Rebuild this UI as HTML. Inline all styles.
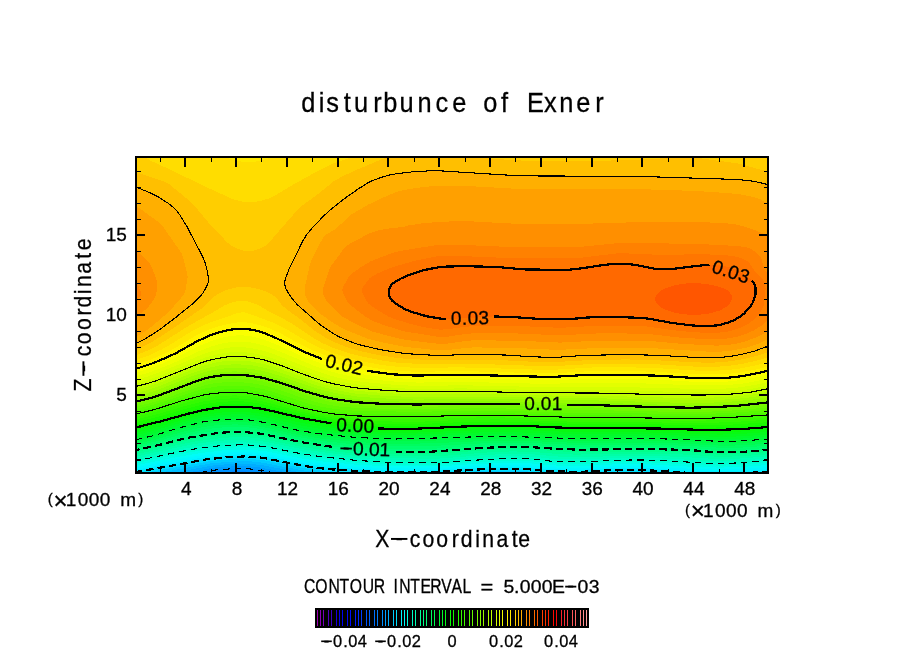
<!DOCTYPE html>
<html><head><meta charset="utf-8"><title>disturbunce of Exner</title>
<style>
html,body{margin:0;padding:0;background:#fff;}
body{width:904px;height:654px;overflow:hidden;}
svg{display:block;font-family:"Liberation Sans",sans-serif;fill:#000;}
.bt{stroke:#000;stroke-width:0.3px;}
.f path{stroke:none;shape-rendering:crispEdges;}
.c path{fill:none;stroke:#000;stroke-linejoin:round;shape-rendering:crispEdges;}
.t path{fill:none;stroke:#000;shape-rendering:crispEdges;}
.cl text{font-size:19px;}
.tk text{font-size:19px;}
.cb text{font-size:16.4px;}
.tk text,.cl text,.cb text{stroke:#000;stroke-width:0.3px;}
</style></head><body>
<svg width="904" height="654" viewBox="0 0 904 654">
<defs><clipPath id="cp"><rect x="136" y="157" width="632" height="316"/></clipPath></defs>
<rect x="136" y="157" width="632" height="316" fill="#0087ff"/>
<g class="f" clip-path="url(#cp)">
<path fill="#0091ff" d="M134,155 770,155 770,473 260.4,473 250,471.7 240,471.2 224,471.8 212.7,473 134,473Z"/>
<path fill="#009eff" d="M134,155 770,155 770,473 275.4,473 254,469.3 240,468.7 216,469.9 198.9,473 134,473Z"/>
<path fill="#00adff" d="M134,155 770,155 770,473 290,473 258,467.2 250,466.4 242,466.1 228,466.6 214,467.6 185.4,473 134,473Z"/>
<path fill="#00bcff" d="M134,155 770,155 770,473 304.6,473 260.8,465 252,464 242,463.7 228,464.2 212,465.6 172,473 134,473Z"/>
<path fill="#00ccff" d="M134,155 770,155 770,473 322.6,473 302,470.3 262,462.6 252,461.5 242,461.3 226,462 210,463.5 158.1,473 134,473Z"/>
<path fill="#00dfff" d="M134,155 770,155 770,473 659.2,473 632,471.6 614,472 597,473 548.3,473 526,471.4 488,471.2 470,471.6 445.2,473 355.5,473 330,471.5 316,470 302,467.9 264,460.4 254,459.3 244,458.9 228,459.5 210,461.2 143.7,473 134,473Z"/>
<path fill="#00edff" d="M134,155 770,155 770,471.4 747.2,473 691.6,473 636,469.6 614,470 586,471.7 578,471.9 548,471.1 528,469.3 490,469.2 470,469.7 436,471.7 404,472.4 392,472.3 356,470.9 326,468.9 306,466.2 264,458 255,457 244,456.5 228,457.1 206,459.4 134,472.4Z"/>
<path fill="#00f7ff" d="M134,155 770,155 770,469.2 740,471.3 710,471.5 696,471.2 638,467.7 614,468.1 578,470 550,469.2 528,467.3 512,467.2 478,467.6 436,469.9 394,470.4 358,469 326,466.6 306,463.9 264,455.6 254,454.6 244,454.2 226,455 204,457.3 134,470.1Z"/>
<path fill="#00fdf7" d="M134,155 770,155 770,467 740,469.2 716,469.6 696,469.1 638,465.8 616,466.1 586,467.8 576,468 552,467.4 528,465.2 512,465.1 476,465.8 436,468.2 392,468.4 358,466.9 326,464.2 306,461.5 264,453.4 252,452.2 242,451.9 224,452.7 202,455.2 184,458.2 134,467.9Z"/>
<path fill="#00fee6" d="M134,155 770,155 770,464.8 740,467.1 720,467.6 698,467.1 640,463.9 620,464.1 584,465.9 574,466 552,465.4 530,463.3 510,463 476,463.9 438,466.4 392,466.5 356,464.7 324,461.6 304,458.8 266,451.4 254,450 242,449.6 224,450.3 200,453.1 180,456.5 134,465.7Z"/>
<path fill="#00ffd5" d="M134,155 770,155 770,462.6 740,464.9 722,465.7 702,465.1 642,462 620,462.1 584,463.9 574,464 552,463.4 530,461.1 510,460.8 474,462.1 438,464.7 390,464.5 356,462.6 320,458.8 304,456.5 266,449.1 252,447.6 242,447.2 224,447.9 200,450.6 180,454 134,463.5Z"/>
<path fill="#00ffc5" d="M134,155 770,155 770,460.4 740,462.8 722,463.6 704,463 674,461.2 642,460 620,460.1 580,461.9 560,461.6 550,461.1 534,459 508,458.5 472,460.3 438,462.8 390,462.5 356,460.4 318,456.3 298,453.1 266,446.7 252,445.2 242,444.8 224,445.4 200,448.1 180,451.6 134,461.4Z"/>
<path fill="#00ffb6" d="M134,155 770,155 770,458.3 742,460.5 722,461.4 708,461 674,458.9 644,457.9 620,458 580,459.5 564,459.4 552,458.8 534,456.7 510,456.2 474,458 438,460.8 390,460.4 358,458.4 320,454.2 299.2,451 266,444.3 252,442.7 240,442.3 222,443.1 198,446 180,449.2 134,459.2Z"/>
<path fill="#00ffa7" d="M134,155 770,155 770,456.2 740,458.5 720,459.2 680,456.8 648,455.9 624,455.9 582,457.1 568,457 554,456.3 532,454.2 512,453.8 488,454.8 438,458.7 392,458.3 360,456.4 326,452.7 302,449.2 264,441.6 252,440.2 240,439.7 220,440.7 196,443.8 180,446.8 134,457Z"/>
<path fill="#00ff98" d="M134,155 770,155 770,454.1 742,456.2 720,456.9 688,454.7 670,454 626,453.7 576,454.6 558,454 532,451.8 512,451.4 488,452.4 436,456.4 394,456.2 364,454.5 328,450.8 302,446.9 262,438.8 252,437.6 240,437.1 230,437.4 220,438.2 194,441.7 182,444 134,454.8Z"/>
<path fill="#00ff89" d="M134,155 770,155 770,452 742,454.1 720,454.7 712,454.3 692,452.5 676,451.9 628,451.5 578,452.1 558,451.3 530,449.3 510,449.1 484,450.3 434,454.1 394,453.9 366,452.4 330,448.8 302,444.5 262,436.3 250,435 240,434.6 222,435.3 208,437 194,439.2 184,441.1 134,452.7Z"/>
<path fill="#00fe7b" d="M134,155 770,155 770,449.9 742,451.9 720,452.4 692,450.2 678,449.7 628,449.2 580,449.7 558,448.9 530,447.1 508,446.8 482,448 432,451.6 394,451.5 368,450.2 330,446.6 302,442.3 262,433.9 250,432.5 240,432 222,432.7 198,436 184,438.7 162,444.3 134,450.6Z"/>
<path fill="#00fd6d" d="M134,155 770,155 770,447.7 742,449.8 720,450.2 692,448.1 672,447.4 628,447 582,447.4 558,446.6 530.2,445 508,444.7 482,445.6 432,448.8 392,448.9 366,447.6 330,444.3 302,440.1 262,431.6 248,429.8 236,429.5 226,429.7 218,430.4 198,433.4 184,436.3 160,442.6 134,448.5Z"/>
<path fill="#00fc5f" d="M134,155 770,155 770,445.6 742,447.6 722,447.9 690,445.9 668,445.2 630,444.7 582,445.2 532,443.1 508,442.6 482,443.4 430,446.1 404,446.4 388,446.2 354,444.3 324,441.2 298,437.1 260,428.9 248,427.4 236,426.9 218,427.7 202,430 186,433.4 158.2,441 134,446.4Z"/>
<path fill="#00fb51" d="M134,155 770,155 770,443.5 742,445.4 722,445.7 686,443.8 664,443 630,442.5 582,443.1 530,441 506,440.5 480,441.2 428,443.4 400,443.8 386,443.5 354,441.9 320,438.5 294,434.2 268,428.1 258,426.3 246,424.7 234,424.4 216,425.2 202,427.3 184,431.4 156,439.4 134,444.3Z"/>
<path fill="#00fa43" d="M134,155 770,155 770,441.3 740,443.3 720,443.5 676,441.3 644,440.5 628,440.3 582,441 506,438.4 426,440.8 398,441.3 386,441.1 354,439.6 318,436 294,432 270,426.2 256,423.5 246,422.2 234,421.9 216,422.7 202,424.6 182,429.5 156,437.3 134,442.2Z"/>
<path fill="#01fa36" d="M134,155 770,155 770,439 738,441.1 718,441.3 674,439.2 640,438.3 628,438.1 582,438.9 506,436.3 408,438.8 394,439 380,438.6 354,437.3 318,433.6 294,429.6 270,423.7 254,420.6 246,419.6 234,419.4 218,420 208,421.1 202,422.1 180,427.6 154,435.6 134,440.1Z"/>
<path fill="#03fa2a" d="M134,155 770,155 770,436.7 740,438.7 720,439.1 640,436.2 582,436.7 506,434.2 468,434.9 410,436.6 394,436.8 380,436.5 354,435.1 318,431.1 296,427.4 272,421.5 256,418.3 246,417 236,416.8 220,417.4 210,418.5 202,419.8 180,425.3 152,433.8 134,437.8Z"/>
<path fill="#05fa1e" d="M134,155 770,155 770,434.3 740,436.4 720,436.9 644,434.3 628,434.1 580,434.5 508,432 468,432.7 416,434.5 394,434.8 380,434.5 354,433 320,428.8 298,425 272,418.8 258,415.9 248,414.6 238,414.2 220,415 202,417.5 182,422.5 150,431.8 134,435.5Z"/>
<path fill="#07fa12" d="M134,155 770,155 770,431.8 742,433.9 720,434.6 640,432.2 576,432.2 528,430.3 508,429.9 466,430.6 416,432.6 380,432.5 354,430.9 324,426.8 300,422.6 260,413.6 248,412.1 238,411.7 220,412.6 202,415.3 184,419.7 150,429.3 134,433.1Z"/>
<path fill="#09fa06" d="M134,155 770,155 770,429.3 744,431.4 720,432.3 700,432 652,430.4 572,430 530,428.2 510,427.8 466,428.5 418,430.6 380,430.6 356,429 332,425.6 302,420.4 260,411 248,409.5 238,409.1 222,409.8 204,412.5 188,416.3 154,425.6 134,430.5Z"/>
<path fill="#10fa00" d="M134,155 770,155 770,426.9 744,428.9 718,429.9 696,429.7 658,428.5 568,427.8 530,426.1 510,425.7 464,426.5 418,428.6 380,428.5 356,426.9 326,422.5 302,418.1 262,408.8 248,406.9 238,406.5 222,407.2 204,410 188,413.8 162,421 134,427.9Z"/>
<path fill="#1cfa00" d="M134,155 770,155 770,424.4 740,426.6 714,427.6 696,427.5 658,426.4 570,425.7 530,424.1 506,423.6 462,424.4 418,426.5 380,426.3 356,424.7 328,420.8 304,416.4 262,406.4 248,404.3 236,403.9 222,404.5 204,407.2 186,411.6 159.8,419 134,425.3Z"/>
<path fill="#28fa00" d="M134,155 770,155 770,422 732,424.6 704,425.3 658,424.4 570,423.6 526,422 498,421.5 460,422.2 418,424.2 378,423.9 356,422.6 326,418.6 302,413.9 262,403.9 248,401.7 236,401.1 220,401.9 204,404.3 188,408.2 158,416.8 134,422.6Z"/>
<path fill="#34fa00" d="M134,155 770,155 770,419.6 732,422.1 700,423.1 618,421.8 570,421.6 496,419.4 460,420 416,421.9 368,421.1 352,420 326,416.8 302,412 272,403.8 260,400.9 246,398.8 234,398.3 218,399.2 202,401.7 186,405.7 158,414 134,419.9Z"/>
<path fill="#40fa00" d="M134,155 770,155 770,417.2 734,419.5 698,420.8 570,419.4 494,417.2 458,417.8 418,419.4 360,418.4 340,416.7 324,414.5 304,410.4 270,400.6 260,398.1 246,395.9 234,395.4 216,396.3 202,398.5 184,403.2 156,411.9 134,417.2Z"/>
<path fill="#4cfa00" d="M134,155 770,155 770,414.8 734,417.2 696,418.7 564,417.1 494,415.1 456,415.5 418,416.9 358,416 336,414.2 324,412.4 304,408.2 270,397.7 262,395.6 246,392.8 234,392.3 220,392.9 203.6,395 181.3,401 154,409.7 134,414.5Z"/>
<path fill="#58fa00" d="M134,155 770,155 770,412.3 736,414.8 694,416.5 612,415.2 562,414.9 494,412.9 456,413.2 418,414.4 356,413.4 334,411.6 318.5,409 302.3,405 274,395.6 262,392.3 248,389.7 234,389 218,389.8 202,392.3 182,398 154,407.1 134,411.9Z"/>
<path fill="#64fa00" d="M134,155 770,155 770,409.8 736,412.5 708,413.9 692,414.3 602,412.7 562,412.5 496,410.6 458,410.8 418,411.9 356,410.8 336,409.2 322.5,407 306.3,403 276,392.7 264,389.2 250,386.5 242,385.7 234,385.5 218,386.3 204,388.7 190,392.7 156,404 134,409.4Z"/>
<path fill="#70fa00" d="M134,155 770,155 770,407.3 734,410.4 708,411.7 688,412.2 592,410 562,410.2 502,408.4 460,408.5 416,409.4 358,408.1 340,406.6 324,404 308,399.8 278,389.5 264,385.5 250,382.9 234,381.9 220,382.6 212,383.7 206,385 192,389.1 157.7,401 148,403.7 134,406.9Z"/>
<path fill="#7cfa00" d="M134,155 770,155 770,404.8 736,408.1 714,409.3 688,410 590,407.4 562,407.8 516,406.2 460,406.1 416,406.9 364,405.6 348,404.3 328,401.3 308,395.9 278,385.6 264,381.7 250,379.3 234,378.4 220,379.1 212,380.2 206,381.5 194,385.4 156.1,399 134,404.4Z"/>
<path fill="#89fb00" d="M134,155 770,155 770,402.2 736,405.9 716,407 688,407.8 590,404.9 564,405.4 518,403.8 458,403.8 418,404.5 376,403.5 354,402 330,398.2 308,392.2 280,382.6 264,378.1 258,376.8 248,375.5 234,374.9 226,375.1 220,375.7 210,377.2 204,378.6 156,396.4 134,401.9Z"/>
<path fill="#97fc00" d="M134,155 770,155 770,399.7 750,402.3 736,403.6 714,404.8 688,405.4 588,402.5 564,403 510,401.5 458,401.4 416,402 378,400.9 356,399.2 334,395.8 324,393.4 310,389.5 280,379.2 264,374.6 256,373.1 248,372 234,371.4 220,372.3 212,373.6 204,375.4 196,378 156,393.6 148,395.9 134,399.2Z"/>
<path fill="#a5fd00" d="M134,155 770,155 770,397 752,399.6 736,401.3 714,402.5 688,403 588,400.2 562,400.5 518,399.3 464,399 416,399.6 380,398.3 356,396.4 334,392.8 324,390.4 312.2,387 280,375.9 266,371.7 258,369.9 250,368.7 236,367.9 228,368.1 220,368.9 212,370.3 204,372.2 194,375.5 156,390.5 146,393.5 134,396.4Z"/>
<path fill="#b3fe00" d="M134,155 770,155 770,394.3 752,397.2 734,399.1 714,400 688,400.5 666,400.2 590,398 560,398.1 516,397 462,396.6 416,397.1 384,395.8 356,393.6 334,389.9 315.6,385 278,371.8 266,368.2 252,365.4 244,364.6 236,364.3 228,364.6 220,365.4 206,368.4 192,373.1 158,386.6 146,390.4 134,393.4Z"/>
<path fill="#c1ff00" d="M134,155 770,155 770,391.4 752,394.6 734,396.6 714,397.5 692,397.8 670,397.7 594,395.6 552,395.5 502,394.4 456,394 414,394.5 386,393.2 356,390.8 332,386.5 324,384.5 313,381 278,368.2 266,364.5 252,361.6 244,360.8 236,360.5 222,361.5 214,362.9 206,364.9 192,369.8 158,383.4 146,387.2 134,390.3Z"/>
<path fill="#cdff00" d="M134,155 770,155 770,388.3 752,391.9 738,393.6 726,394.4 704,395 674,394.9 596,393 546,392.9 462,391.3 416,391.9 400,391.2 358,388.1 334,383.9 326,381.9 311.1,377 280,365.1 264,359.9 252,357.6 244,356.7 238,356.5 224,357.3 206,361.1 198,364 156,380.8 134,387Z"/>
<path fill="#d8ff00" d="M134,155 770,155 770,385.1 752,388.8 740,390.5 728,391.5 708,392 676,391.8 596,390 544,390.1 462,388.4 418,389 402,388.4 360,385.1 336.1,381 328,378.9 310.2,373 282,361.7 266,356.2 260,354.6 252,353.1 244,352.2 238,352 230,352.4 222,353.4 206,357.3 198,360.1 156,377.3 148,379.9 134,383.7Z"/>
<path fill="#e3ff00" d="M134,155 770,155 770,381.7 754,385.1 740,387.3 726,388.5 710,388.9 684,388.6 604,386.6 546,387.1 464,385.3 418,385.9 398,385.1 362,381.9 348,379.7 336,377.2 326,374.3 314,370.2 278,355.7 266,351.5 252,348.2 244,347.3 238,347.1 230,347.5 224,348.4 210,351.8 198,356.1 177.7,365 158,372.9 146.2,377 134,380.4Z"/>
<path fill="#eeff00" d="M134,155 770,155 770,378 754,381.6 742,383.6 728,385 714,385.5 690,385.2 650,383.6 616,382.8 590,382.7 546,383.9 464,381.9 418,382.6 396,381.7 378,380.1 362,378.2 348,375.7 336.2,373 324,369.3 312.1,365 276,349.9 266,346.2 258,343.9 252,342.6 246,341.8 240,341.5 234,341.7 226,342.7 220,344 212,346.3 198,351.7 177.9,361 162,367.7 147.4,373 134,376.9Z"/>
<path fill="#faff00" d="M134,155 770,155 770,374.2 754,377.8 742,380 728,381.5 716,381.9 692,381.7 658,379.7 622,378.6 590,378.6 548,380.4 462,378.3 448,378.3 418,379.2 396,378.2 382.9,377 366,374.8 352,372.2 338,369 325.3,365 308,358.6 299.3,355 276,344.3 264,339.6 252,336.4 246,335.6 240,335.3 234,335.6 226,336.8 218,338.7 212,340.7 200,345.7 177.5,357 163.9,363 148,369 134,373.3Z"/>
<path fill="#fff300" d="M134,155 770,155 770,370.2 756,373.5 742,376.2 728,377.7 718,378.2 692,377.9 660,375.8 626,374.6 592,374.6 548,376.9 462,374.7 450,374.6 418,375.6 396,374.6 368,371.1 346,366.4 338,364.3 322,359 306.4,353 276,338 266,333.8 254,330.1 248,329.2 242,328.8 234,329.2 228,330.1 218,332.7 210,335.2 196,341.9 176.1,353 167.7,357 153.5,363 134,369.5Z"/>
<path fill="#ffe800" d="M134,155 770,155 770,366 756,369.5 740,372.5 728,373.9 716,374.5 694,374.3 660,372 626,370.8 592,371 556,373.2 546,373.4 468,371.2 450,371.1 420,371.9 398,370.9 384,369.4 370,367.2 350.5,363 338,359.6 324,354.8 310,349.1 301.7,345 280,333.1 268,327.7 262,325.7 254,323.6 248,322.6 242,322.2 236,322.6 226,324.4 218,326.5 208,329.9 196,335.6 173.4,349 165.8,353 152,359.1 134,365.3Z"/>
<path fill="#ffdd00" d="M134,155 210,155 226,157.7 236,160.6 244,162 248,162.3 254,161.9 272,157.4 285.6,155 770,155 770,361.6 756,365.3 740,368.5 728,370 714,370.8 696,370.6 658,368.2 626,367.2 592,367.5 558,369.5 544,369.9 474,367.6 454,367.4 420,368 398,366.9 382,365 364,361.7 348,357.8 332.8,353 322.4,349 313.7,345 302.9,339 286,328.8 276,323.8 250,314 246,312.7 242,312.2 236,313.5 226.6,317 212,321.8 202,325.9 190,332.2 169.6,345 162,349.3 150,355 134,360.9Z"/>
<path fill="#ffce00" d="M134,155 141.4,155 146,158.1 151.4,161 170,169.5 204,186 232,198.8 240,201.1 246,202.1 250,202.2 256,201.7 262,200.5 270,198.2 276,195 294,184.1 320,169.8 334,163.1 352,157 356,155 770,155 770,356.8 755.5,361 740,364.3 726,366.2 712,366.9 696,366.7 658,364.4 630,363.5 592,364 558,365.9 544,366.2 474,363.8 418,363.9 396,362.5 380,360.2 362,356.6 346,352.3 332,347.4 322.3,343 314.9,339 290,322.5 282,318.1 271.5,313 258,304.9 250,302 246,301 242,300.6 238,301 232,302.5 224,305.6 211.8,313 188,326.2 158.5,345 146.6,351 134,355.9Z"/>
<path fill="#ffbf00" d="M388,157 398.3,155 454.5,155 492,158.7 512,160.1 532,161 558,161.3 618,160.4 648,159.2 680,157.4 690,157.3 700,158.3 738,163.4 770,172.3 770,351.4 756,356 742,359.4 726,361.8 712,362.7 694,362.4 656,360.2 626,359.4 588,360.2 556,362 540,362.1 502,360.2 482,359.7 424,359.7 408.4,359 396,357.8 377.8,355 359.8,351 346.4,347 332,341.1 324.4,337 315.1,331 300,319 286.2,309 281.9,305 276,297.5 272.5,295 266,291.7 260,289.4 252,287.6 244,286.6 238,287.1 230,288.9 224,291 218,294 213.5,297 206,304.8 201,309 166.2,333 150,343.1 142.2,347 134,350.5 134,171.6 162.5,181 167.2,183 170,184.8 188,199.6 193.9,205 212,226.7 228,243.1 232,246 240,249.7 246,251.4 250,251.5 254,250.6 260,248.6 263.3,247 266.3,245 270,241.4 296.5,211 300.4,207 319.3,193 334.1,181 341.2,177 353.9,171 382,159.1Z"/>
<path fill="#ffaf00" d="M426.2,171 436,170.7 444,170.9 520,175.9 636,176.3 732,179.3 752,181.1 760,182.6 770,185.1 770,345.4 754.9,351 742,354.3 730,356.5 716,357.8 694,357.4 660,355.4 626,354.5 582,355.5 554,357.3 532,356.8 504,355 482,354.5 468,354.4 436,355.4 406,353.6 380,349.6 368,346.9 356,343.7 338,336.2 332,332.8 320.4,325 299.8,307 295.7,303 290.9,297 287.2,291 285.2,287 284.6,283 285.8,277 290.8,265 302.8,241 306.4,235 312,228.2 329,211 346,197.4 358,189.1 367.7,183 376.5,179 390,174.8 408,172.3ZM134,187 134,186.3 140,188.6 156,195.6 167.8,203 177,211 180,215.2 187.2,227 202.8,257 205.2,263 207.3,271 208.6,279 208.5,281 207.4,285 203,293 199.8,297 193.6,303 176.3,317 160,329.4 146,338.4 134,344.4Z"/>
<path fill="#ffa000" d="M422.9,187 434,186.1 460,185.6 520,189 638,189.1 694,190.9 726.9,193 740,194.2 753.3,197 760,199.2 770,204.7 770,338.4 760,343 746,347.7 732,350.6 720,351.7 706,351.5 650,348 638,347.7 600,347.9 558,349.9 516,348 474,347.4 468,347.7 450,349.7 440,350.2 432,349.7 406,347 388,343.6 368.5,339 348,330.8 342,328 334,323.3 321.9,315 313.6,307 308,301 306.9,299 305.3,295 304.7,291 304.9,287 310,264 311.2,261 320.1,243 323.5,237 325.4,235 336,228.7 350.6,215 368,204.7 384,197.2 398,191.3 406,189.6ZM134,205 140.5,209 157.1,221 161.5,225 164,228.1 181.4,253 183.4,259 186.2,269 187.7,277 185.8,289 184.6,293 181.9,297 173.2,307 167.6,313 151.2,327 142.4,333 134,337.6Z"/>
<path fill="#ff8f00" d="M459.4,221 470,221.3 514,223.7 526,224 580,223.9 642,222 700,222 726,223.3 734,224.1 742,225.9 754,229.8 764,233.8 766.3,235 770,238.2 770,329.8 765.1,333 758,336.7 746,341.2 739.3,343 732,344.4 724,345.3 716,345.6 682,343.9 650,340.9 640,340.6 600,340.5 560,342.6 518,340.7 474,340.3 466,340.9 448,343.5 440,343.8 432,343.2 404,339.6 384.9,335 372,331.4 357.8,325 343,317 338.2,313 328.2,303 325.3,299 323.4,295 322.8,291 323.4,287 329.4,269 332,264.6 343.6,249 347.8,245 352,242.5 370,233.1 378,230.4 386,228.9 402.8,227 408,225.5 422,223.4 438,222ZM134,245 134,243.9 136.1,249 137.5,251 147.8,261 150.8,265 156.4,279 157.1,285 156.4,293 155.9,295 154.3,299 148.3,307 146.4,309 138.1,315 136.9,317 135.8,321 134,324.6Z"/>
<path fill="#ff8100" d="M622.6,243 696,243.8 734,245.8 742,246.6 748,247.7 752,249.4 756.9,253 760,256.4 761.4,259 764.4,269 765.8,271 770,275.3 770,317.1 766.8,321 762.4,325 754,330.4 743.1,335 736,337 730,338.2 720,339.3 708,339.3 680,337.6 646,333.7 606,333.3 596,333.5 560,335.3 518,333.5 474,333.3 466,333.9 448,336.6 442,336.9 436,336.5 404,331.3 386,325.8 372.7,321 366,317 350.3,305 347.1,301 343.9,295 342.4,291 342.5,289 343.1,287 348.7,277 352.7,273 362,266.4 370,261.7 380,257.6 394,252.4 402,250.6 434,245.5 444,244.6 454,244.6 518,247.3 572,247.1 582,246.7 614,243.5ZM134,277 134,276.5 134.4,277 136.8,281 141.1,293 141,295 139.8,297 134,301.5Z"/>
<path fill="#ff7600" d="M603.3,255 616,253.5 622,253.2 664,255 696,254.2 706,254.3 728,255.5 734,256.2 740,257.7 747.2,261 749.5,263 754.6,271 762.2,279 764.7,283 765.3,285 765.6,289 764.7,295 764.2,303 763.1,307 761.2,311 758,315.6 754.8,319 749.5,323 744,326.1 737.2,329 730.3,331 724,332.2 714,333 704,332.8 680,331.1 646,326.4 608,325.8 596,325.9 560,327.8 518,326 476,326 466,326.7 446,329.4 440,329.6 436,329.2 423.3,327 414.3,325 394.5,319 388,316.4 372.8,307 368,303.2 365.2,299 362.5,293 362,291 362.2,289 363.1,287 368.9,279 372,276.4 378,273.2 390,268.1 404,263.8 418,260 436,256.5 442,255.8 450,255.6 518,258.4 568,258.1 582,257.6Z"/>
<path fill="#ff6900" d="M603.1,265 614,263.8 624,263.6 636,265 654,268.7 662,269.3 674,268.7 702,265.3 712,264.8 720,265.4 726,266.4 734,268.7 739.3,271 750.3,279 752.3,281 754.8,285 755.6,289 755.5,295 754,299.9 752.6,303 750,306.9 744.8,313 742,315.3 736.1,319 732,321.1 726,323.2 718,325.3 708,326 694,325.7 672.6,323 646,318.3 620,317.1 592,317.3 568,319.3 556,319.4 544,319.2 518,317.4 494,316.4 452,319 442,318.8 430.2,317 424,315.6 412,311.9 406,309.7 397.9,305 392.4,301 390.8,299 389.1,295 388.9,291 390.1,287 393.3,283 396.3,281 406,276.2 420.9,271 428.9,269 440,267.1 456,266.3 476,266.4 500,267.2 524,269.5 562,270.2 582,268.3Z"/>
<path fill="#ff5600" d="M676.1,285 686,283.5 696,283.1 706,283.9 716,285.9 724,288.3 728.6,291 731.5,295 732,297 731.8,299 730.2,303 726.2,307 720,310.4 712,312.9 704,314.3 694,314.9 684,314.3 676,313 668,310.6 664.1,309 660.6,307 658,305 656.3,303 655.3,301 655,299 655.3,297 656.3,295 660.3,291 666,288Z"/>
</g>
<g class="c" clip-path="url(#cp)">
<path d="M275.4,473 254,469.3 248,468.8 240,468.7 230,468.9 216,469.9 210,470.7 198.9,473" stroke-width="1.1" stroke-dasharray="6.5 5"/>
<path d="M691.6,473 644,470 634,469.6 612,470.1 580,471.9 550,471.2 530,469.4 520,469.2 480,469.4 438,471.6 404,472.4 394,472.3 364,471.3 332,469.4 320,468.2 304,465.9 264,458 255,457 244,456.5 228,457.1 206,459.4 134,472.4M770,471.4 747.2,473" stroke-width="2.2" stroke-dasharray="7.5 4"/>
<path d="M770,460.4 740,462.8 722,463.6 704,463 674,461.2 642,460 620,460.1 580,461.9 560,461.6 550,461.1 534,459 508,458.5 472,460.3 438,462.8 390,462.5 356,460.4 318,456.3 298,453.1 266,446.7 252,445.2 242,444.8 224,445.4 210,446.8 200,448.1 180,451.6 134,461.4" stroke-width="1.1" stroke-dasharray="6.5 5"/>
<path d="M770,449.9 742,451.9 720,452.4 712,452 692.1,450.2 678.1,449.7 660,449.3 628,449.2 579.9,449.7 557.9,448.9 530.4,447.1 508.4,446.8 481.9,448 432,451.6 396.4,451.6M332,446.8 303.8,442.6 260.2,433.6 246.2,432.2 233.7,432.1 224.2,432.5 214.3,433.5 190,437.4 182.2,439.1 159.9,444.8 134,450.6" stroke-width="2.2" stroke-dasharray="7.5 4"/>
<path d="M770,439 738,441.1 718,441.3 674,439.2 640,438.3 628,438.1 582,438.9 506,436.3 470,437 408,438.8 394,439 380,438.6 354,437.3 318,433.6 294,429.6 270,423.7 254,420.6 246,419.6 234,419.4 218,420 208,421.1 202,422.1 180,427.6 154,435.6 134,440.1" stroke-width="1.1" stroke-dasharray="6.5 5"/>
<path d="M770,426.9 744,428.9 718,429.9 696,429.7 658,428.5 568.4,427.8 554.4,427.4 529.9,426.1 509.9,425.7 487.8,425.8 463.8,426.5 417.8,428.6 389.8,428.7 378.3,428.5M331.5,423.4 303.9,418.5 270.3,410.6 260,408.5 246.1,406.7 232.1,406.6 220.1,407.4 203.8,410 188.2,413.7 161.7,421.1 134,427.9" stroke-width="2.2"/>
<path d="M770,414.8 734,417.2 696,418.7 614,417.5 564,417.1 494,415.1 456,415.5 418,416.9 358,416 336,414.2 324,412.4 304,408.2 270,397.7 262,395.6 246,392.8 234,392.3 220,392.9 210,393.9 203.6,395 181.3,401 154,409.7 134,414.5" stroke-width="1.1"/>
<path d="M770,402.2 737.7,405.8 716.2,407 690.2,407.7 654.1,407 588.1,404.9 566.6,405.4M520.1,403.9 458,403.8 416,404.5 380.4,403.7 356,402.2 336.1,399.3 325.9,397.2 306.1,391.6 278.2,382.1 261.8,377.6 247.9,375.5 235.9,374.9 227.9,375 221.9,375.4 212,376.8 205.6,378.2 198,380.6 155.9,396.5 146.7,399 134,401.9" stroke-width="2.2"/>
<path d="M770,388.3 752,391.9 738,393.6 726,394.4 704,395 674,394.9 596,393 546,392.9 462,391.3 416,391.9 400,391.2 378,389.8 358,388.1 350,386.9 334,383.9 326,381.9 311.1,377 300.1,373 280,365.1 264,359.9 258,358.5 252,357.6 244,356.7 238,356.5 230,356.7 224,357.3 216,358.8 206,361.1 198,364 156,380.8 148,383.3 134,387" stroke-width="1.1"/>
<path d="M770,370.2 755.9,373.5 741.6,376.2 726.2,377.9 715.7,378.3 692.1,377.9 660.2,375.8 624.1,374.6 590.1,374.7 556.1,376.7 548.1,376.9 458,374.6 416,375.6 392,374.3 366.7,370.8M321.8,358.9 304.1,351.9 275.8,337.9 265.7,333.7 258.1,331.1 252.2,329.8 244.3,328.9 237.8,329 231.8,329.5 225.9,330.6 216.2,333.2 210,335.2 196,341.9 176.4,352.9 167.8,357 153.5,363 134,369.5" stroke-width="2.2"/>
<path d="M134,186.3 150,192.7 158,196.8 167.8,203 172.8,207 177,211 180,215.2 187.2,227 202.8,257 205.2,263 207.3,271 208.6,279 208.5,281 207.4,285 203,293 199.8,297 193.6,303 176.3,317 160,329.4 146,338.4 134,344.4M770,345.4 754.9,351 742,354.3 730,356.5 716,357.8 694,357.4 660,355.4 628,354.5 584,355.4 560,357.1 550,357.3 532,356.8 508,355.1 492,354.7 470,354.4 442,355.4 434,355.3 412,354 402,353.1 380,349.6 360.4,345 354,343 344.1,339 339.6,337 334,334 320.4,325 297.7,305 294,301 289.5,295 286.1,289 285.2,287 284.6,283 285.2,279 289.1,269 302.8,241 306.4,235 312,228.2 316,223.9 324.7,215 331.3,209 344,198.9 358,189.1 367.7,183 372,180.8 382,177.1 390,174.8 398,173.5 412,171.9 430,170.8 438,170.7 520,175.9 636,176.3 732,179.3 742,179.9 752,181.1 760,182.6 770,185.1" stroke-width="1.1"/>
<path d="M603.1,265 614,263.8 624,263.6 636,265 654.1,268.7 662.1,269.3 674.1,268.7 700.5,265.5 709.5,264.8M751.9,280.6 753.9,283.4 755.3,286.6 755.6,289.1 755.5,294.6 753.4,301.3 752,304 750,306.8 744.1,313.6 741.7,315.5 735.8,319.2 732.2,321 727,322.9 720.3,324.8 716.3,325.5 703.8,326 692.3,325.5 672.4,323 647.8,318.5 634.3,317.6 615.8,317 594.2,317.2 585.7,317.6 568.3,319.3 554.2,319.4 544.2,319.2 517.7,317.4 493.7,316.4M446.2,319.1 439.8,318.5 427.9,316.5 421.6,314.9 409.2,311 404.6,309 397.7,304.9 392.5,301.1 390.9,299.1 389.7,297 389.1,295 388.9,291.1 390,287.2 391.6,284.7 394.2,282.4 399.8,279.1 405.7,276.3 414.6,273 421.3,270.9 429.1,269 439.9,267.1 447.9,266.5 465.9,266.2 490.4,266.8 501.9,267.4 523.8,269.4 547.9,269.7 561.9,270.2 568.4,269.8 582.3,268.2 603.1,265" stroke-width="2.2"/>
</g>
<g class="cl">
<g transform="translate(470.0,317.8) rotate(-1)"><text x="0" y="6.7" text-anchor="middle" textLength="38" lengthAdjust="spacing">0.03</text></g>
<g transform="translate(731.0,271.5) rotate(18)"><text x="0" y="6.7" text-anchor="middle" textLength="38" lengthAdjust="spacing">0.03</text></g>
<g transform="translate(344.2,364.3) rotate(13.5)"><text x="0" y="6.7" text-anchor="middle" textLength="38" lengthAdjust="spacing">0.02</text></g>
<g transform="translate(543.3,403.6) rotate(0)"><text x="0" y="6.7" text-anchor="middle" textLength="38" lengthAdjust="spacing">0.01</text></g>
<g transform="translate(355.2,425.2) rotate(3)"><text x="0" y="6.7" text-anchor="middle" textLength="38" lengthAdjust="spacing">0.00</text></g>
<g transform="translate(364.2,448.8) rotate(2)"><text  style="font-size:19px" text-anchor="middle" transform="scale(1.02,1)" x="-17.65 -5.78 2.01 10.00 20.39" y="5.46 6.70 6.70 6.70 6.70">-0.01</text><path d="M-23.8,0.33H-12.3" stroke="#000" stroke-width="1.83" fill="none"/></g>
</g>
<g class="t">
<path d="M160.5,157 v5 M160.5,473 v-4.2" stroke-width="1"/>
<path d="M185,157 v10 M185,473 v-10" stroke-width="2"/>
<path d="M211.5,157 v5 M211.5,473 v-4.2" stroke-width="1"/>
<path d="M236,157 v10 M236,473 v-10" stroke-width="2"/>
<path d="M261.5,157 v5 M261.5,473 v-4.2" stroke-width="1"/>
<path d="M287,157 v10 M287,473 v-10" stroke-width="2"/>
<path d="M312.5,157 v5 M312.5,473 v-4.2" stroke-width="1"/>
<path d="M338,157 v10 M338,473 v-10" stroke-width="2"/>
<path d="M363.5,157 v5 M363.5,473 v-4.2" stroke-width="1"/>
<path d="M388,157 v10 M388,473 v-10" stroke-width="2"/>
<path d="M414.5,157 v5 M414.5,473 v-4.2" stroke-width="1"/>
<path d="M439,157 v10 M439,473 v-10" stroke-width="2"/>
<path d="M465.5,157 v5 M465.5,473 v-4.2" stroke-width="1"/>
<path d="M490,157 v10 M490,473 v-10" stroke-width="2"/>
<path d="M515.5,157 v5 M515.5,473 v-4.2" stroke-width="1"/>
<path d="M541,157 v10 M541,473 v-10" stroke-width="2"/>
<path d="M566.5,157 v5 M566.5,473 v-4.2" stroke-width="1"/>
<path d="M592,157 v10 M592,473 v-10" stroke-width="2"/>
<path d="M617.5,157 v5 M617.5,473 v-4.2" stroke-width="1"/>
<path d="M642,157 v10 M642,473 v-10" stroke-width="2"/>
<path d="M668.5,157 v5 M668.5,473 v-4.2" stroke-width="1"/>
<path d="M693,157 v10 M693,473 v-10" stroke-width="2"/>
<path d="M719.5,157 v5 M719.5,473 v-4.2" stroke-width="1"/>
<path d="M744,157 v10 M744,473 v-10" stroke-width="2"/>
<path d="M136,459.5 h5 M768,459.5 h-4" stroke-width="1"/>
<path d="M136,443.5 h5 M768,443.5 h-4" stroke-width="1"/>
<path d="M136,427.5 h5 M768,427.5 h-4" stroke-width="1"/>
<path d="M136,411.5 h5 M768,411.5 h-4" stroke-width="1"/>
<path d="M136,395 h9 M768,395 h-9" stroke-width="2"/>
<path d="M136,379.5 h5 M768,379.5 h-4" stroke-width="1"/>
<path d="M136,363.5 h5 M768,363.5 h-4" stroke-width="1"/>
<path d="M136,347.5 h5 M768,347.5 h-4" stroke-width="1"/>
<path d="M136,331.5 h5 M768,331.5 h-4" stroke-width="1"/>
<path d="M136,315 h9 M768,315 h-9" stroke-width="2"/>
<path d="M136,299.5 h5 M768,299.5 h-4" stroke-width="1"/>
<path d="M136,283.5 h5 M768,283.5 h-4" stroke-width="1"/>
<path d="M136,267.5 h5 M768,267.5 h-4" stroke-width="1"/>
<path d="M136,251.5 h5 M768,251.5 h-4" stroke-width="1"/>
<path d="M136,235 h9 M768,235 h-9" stroke-width="2"/>
<path d="M136,219.5 h5 M768,219.5 h-4" stroke-width="1"/>
<path d="M136,203.5 h5 M768,203.5 h-4" stroke-width="1"/>
<path d="M136,187.5 h5 M768,187.5 h-4" stroke-width="1"/>
<path d="M136,171.5 h5 M768,171.5 h-4" stroke-width="1"/>
</g>
<rect x="136" y="157" width="632" height="316" fill="none" stroke="#000" stroke-width="2" shape-rendering="crispEdges"/>
<text class="bt" style="font-size:28.2px" text-anchor="middle" transform="scale(0.9,1)" x="342.56 357.22 369.67 385.89 401.11 419.33 433.56 451.78 471.67 490.89 510.22 527.44 544.67 560.56 577.72 594.89 611.44 629.11 648.22 666.22" y="112.4">disturbunce of Exner</text>
<text class="bt" style="font-size:23.5px" text-anchor="middle" transform="scale(0.9,1)" x="424.78 443.56 461.11 476.00 491.22 505.89 518.56 530.78 542.44 558.11 571.78 582.44" y="546.80 545.27 546.80 546.80 546.80 546.80 546.80 546.80 546.80 546.80 546.80 546.80">X-coordinate</text><path d="M391.0,538.93H407.4" stroke="#000" stroke-width="1.93" fill="none"/>
<g transform="translate(91.3,390) rotate(-90)"><text class="bt" style="font-size:23.5px" text-anchor="middle" transform="scale(0.9,1)" x="5.56 23.89 43.44 57.44 73.33 86.67 98.33 109.11 121.11 135.78 149.22 161.89" y="0.00 -1.53 0.00 0.00 0.00 0.00 0.00 0.00 0.00 0.00 0.00 0.00">Z-coordinate</text><path d="M14.2,-7.87H28.7" stroke="#000" stroke-width="1.93" fill="none"/></g>
<g class="tk">
<text x="186.2" y="494.9" text-anchor="middle">4</text>
<text x="237.0" y="494.9" text-anchor="middle">8</text>
<text x="287.5" y="494.9" text-anchor="middle">12</text>
<text x="338.3" y="494.9" text-anchor="middle">16</text>
<text x="389.1" y="494.9" text-anchor="middle">20</text>
<text x="439.9" y="494.9" text-anchor="middle">24</text>
<text x="490.7" y="494.9" text-anchor="middle">28</text>
<text x="541.5" y="494.9" text-anchor="middle">32</text>
<text x="592.3" y="494.9" text-anchor="middle">36</text>
<text x="643.1" y="494.9" text-anchor="middle">40</text>
<text x="693.9" y="494.9" text-anchor="middle">44</text>
<text x="744.7" y="494.9" text-anchor="middle">48</text>
<text x="126.9" y="401.0" text-anchor="end">5</text>
<text x="126.9" y="321.0" text-anchor="end">10</text>
<text x="126.9" y="241.0" text-anchor="end">15</text>
<text text-anchor="middle"><tspan x="50.15" y="504.40" style="font-size:15px">(</tspan><tspan x="60.55" y="508.60" style="font-size:24.2px">×</tspan><tspan x="71.00 82.95 94.00 105.05 116.55 128.05" y="506.40">1000 m</tspan><tspan x="140.85" y="504.40" style="font-size:15px">)</tspan></text>
<text text-anchor="middle"><tspan x="687.50" y="515.10" style="font-size:15px">(</tspan><tspan x="697.90" y="519.30" style="font-size:24.2px">×</tspan><tspan x="708.35 720.30 731.35 742.40 753.90 765.40" y="517.10">1000 m</tspan><tspan x="778.20" y="515.10" style="font-size:15px">)</tspan></text>
<text  style="font-size:19.4px" text-anchor="middle" transform="scale(0.81,1)" x="382.41 396.85 412.41 425.00 439.44 454.75 468.52" y="593">CONTOUR</text> <text  style="font-size:19.4px" text-anchor="middle" transform="scale(0.81,1)" x="488.64 499.88 512.41 525.49 538.09 551.17 564.01 576.54" y="593">INTERVAL</text> <text  style="font-size:19px" text-anchor="middle" transform="scale(1.15,1)" x="423.43" y="593">=</text> <text  style="font-size:19px" text-anchor="middle" transform="scale(1.02,1)" x="498.92 506.57 514.80 525.64 536.52 547.65 559.56 571.47 582.55" y="593.00 593.00 593.00 593.00 593.00 593.00 591.76 593.00 593.00">5.000E-03</text><path d="M565.2,586.63H576.3" stroke="#000" stroke-width="1.83" fill="none"/>
</g>
<g shape-rendering="crispEdges">
<rect x="315" y="608" width="274" height="20" fill="#000"/>
<rect x="317" y="610" width="1" height="16" fill="#9c00b1"/>
<rect x="320" y="610" width="1" height="16" fill="#8900b5"/>
<rect x="323" y="610" width="1" height="16" fill="#7700b8"/>
<rect x="328" y="610" width="1" height="16" fill="#4f00bd"/>
<rect x="331" y="610" width="1" height="16" fill="#3a00c7"/>
<rect x="336" y="610" width="1" height="16" fill="#1a00de"/>
<rect x="339" y="610" width="1" height="16" fill="#0600eb"/>
<rect x="342" y="610" width="1" height="16" fill="#0003f2"/>
<rect x="347" y="610" width="1" height="16" fill="#000af8"/>
<rect x="350" y="610" width="1" height="16" fill="#000ffb"/>
<rect x="355" y="610" width="1" height="16" fill="#001cff"/>
<rect x="358" y="610" width="1" height="16" fill="#002cff"/>
<rect x="361" y="610" width="1" height="16" fill="#003dff"/>
<rect x="366" y="610" width="1" height="16" fill="#0056ff"/>
<rect x="369" y="610" width="1" height="16" fill="#0061ff"/>
<rect x="374" y="610" width="1" height="16" fill="#0073ff"/>
<rect x="377" y="610" width="1" height="16" fill="#007eff"/>
<rect x="382" y="610" width="1" height="16" fill="#0090ff"/>
<rect x="385" y="610" width="1" height="16" fill="#009eff"/>
<rect x="388" y="610" width="1" height="16" fill="#00afff"/>
<rect x="393" y="610" width="1" height="16" fill="#00ccff"/>
<rect x="396" y="610" width="1" height="16" fill="#00e1ff"/>
<rect x="401" y="610" width="1" height="16" fill="#00f6ff"/>
<rect x="404" y="610" width="1" height="16" fill="#00fdf6"/>
<rect x="407" y="610" width="1" height="16" fill="#00fee4"/>
<rect x="412" y="610" width="1" height="16" fill="#00ffc6"/>
<rect x="415" y="610" width="1" height="16" fill="#00ffb5"/>
<rect x="420" y="610" width="1" height="16" fill="#00ff9a"/>
<rect x="423" y="610" width="1" height="16" fill="#00ff89"/>
<rect x="426" y="610" width="1" height="16" fill="#00fe79"/>
<rect x="431" y="610" width="1" height="16" fill="#00fd60"/>
<rect x="434" y="610" width="1" height="16" fill="#00fb50"/>
<rect x="439" y="610" width="1" height="16" fill="#01fa37"/>
<rect x="442" y="610" width="1" height="16" fill="#03fa2a"/>
<rect x="445" y="610" width="1" height="16" fill="#05fa1d"/>
<rect x="450" y="610" width="1" height="16" fill="#09fa07"/>
<rect x="453" y="610" width="1" height="16" fill="#11fa00"/>
<rect x="458" y="610" width="1" height="16" fill="#27fa00"/>
<rect x="461" y="610" width="1" height="16" fill="#34fa00"/>
<rect x="464" y="610" width="1" height="16" fill="#41fa00"/>
<rect x="469" y="610" width="1" height="16" fill="#57fa00"/>
<rect x="472" y="610" width="1" height="16" fill="#64fa00"/>
<rect x="477" y="610" width="1" height="16" fill="#7afa00"/>
<rect x="480" y="610" width="1" height="16" fill="#89fa00"/>
<rect x="483" y="610" width="1" height="16" fill="#98fc00"/>
<rect x="488" y="610" width="1" height="16" fill="#b2fd00"/>
<rect x="491" y="610" width="1" height="16" fill="#c1ff00"/>
<rect x="496" y="610" width="1" height="16" fill="#d7ff00"/>
<rect x="499" y="610" width="1" height="16" fill="#e3ff00"/>
<rect x="502" y="610" width="1" height="16" fill="#efff00"/>
<rect x="507" y="610" width="1" height="16" fill="#fff400"/>
<rect x="510" y="610" width="1" height="16" fill="#ffe800"/>
<rect x="515" y="610" width="1" height="16" fill="#ffd000"/>
<rect x="518" y="610" width="1" height="16" fill="#ffc000"/>
<rect x="521" y="610" width="1" height="16" fill="#ffae00"/>
<rect x="526" y="610" width="1" height="16" fill="#ff9100"/>
<rect x="529" y="610" width="1" height="16" fill="#ff8100"/>
<rect x="534" y="610" width="1" height="16" fill="#ff6b00"/>
<rect x="537" y="610" width="1" height="16" fill="#ff5700"/>
<rect x="542" y="610" width="1" height="16" fill="#ff3e00"/>
<rect x="545" y="610" width="1" height="16" fill="#ff3000"/>
<rect x="548" y="610" width="1" height="16" fill="#ff2200"/>
<rect x="553" y="610" width="1" height="16" fill="#ff0900"/>
<rect x="556" y="610" width="1" height="16" fill="#fe0608"/>
<rect x="561" y="610" width="1" height="16" fill="#fc212b"/>
<rect x="564" y="610" width="1" height="16" fill="#fd3037"/>
<rect x="567" y="610" width="1" height="16" fill="#fd3e43"/>
<rect x="572" y="610" width="1" height="16" fill="#ff5657"/>
<rect x="575" y="610" width="1" height="16" fill="#ff6565"/>
<rect x="580" y="610" width="1" height="16" fill="#ff7e7e"/>
<rect x="583" y="610" width="1" height="16" fill="#ff8e8e"/>
<rect x="586" y="610" width="1" height="16" fill="#ff9d9d"/>
</g>
<g class="cb">
<text  style="font-size:16.4px" text-anchor="middle" x="326.50 337.55 345.55 352.85 362.35" y="645.73 646.80 646.80 646.80 646.80">-0.04</text><path d="M321.2,641.31H331.8" stroke="#000" stroke-width="1.63" fill="none"/>
<text  style="font-size:16.4px" text-anchor="middle" x="380.50 391.55 399.55 406.85 416.35" y="645.73 646.80 646.80 646.80 646.80">-0.02</text><path d="M375.2,641.31H385.8" stroke="#000" stroke-width="1.63" fill="none"/>
<text  style="font-size:16.4px" text-anchor="middle" x="452.00" y="646.8">0</text>
<text  style="font-size:16.4px" text-anchor="middle" x="493.55 501.55 508.85 518.35" y="646.8">0.02</text>
<text  style="font-size:16.4px" text-anchor="middle" x="548.45 556.45 563.75 573.25" y="646.8">0.04</text>
</g>
</svg>
</body></html>
